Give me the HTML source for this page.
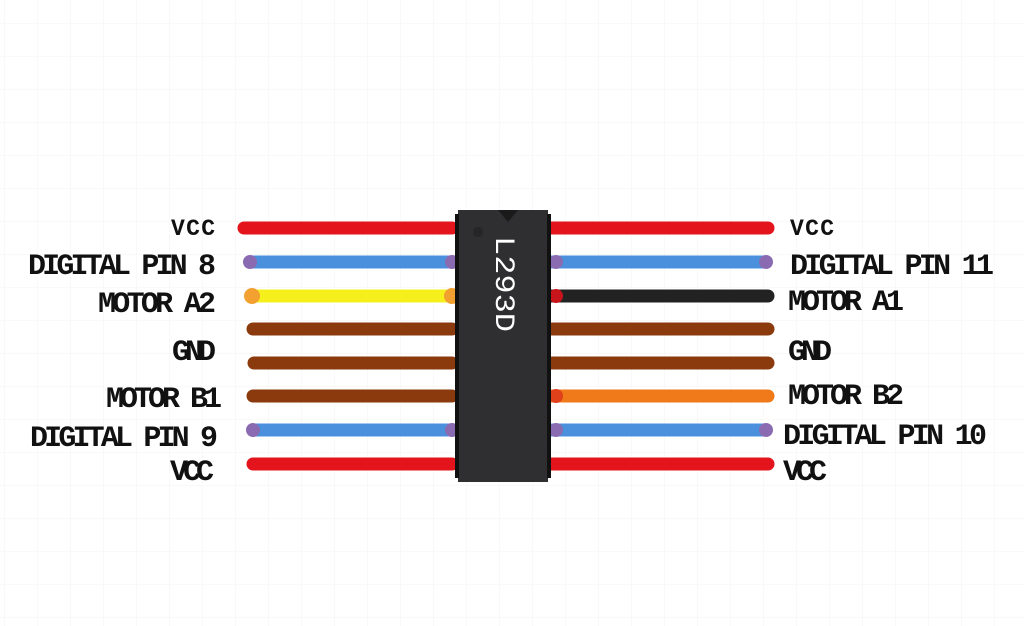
<!DOCTYPE html>
<html><head><style>
html,body{margin:0;padding:0;background:#fff;}
svg{display:block;}
</style></head><body>
<svg width="1024" height="626" viewBox="0 0 1024 626" xmlns="http://www.w3.org/2000/svg">
<defs>
<pattern id="g" width="33" height="33" patternUnits="userSpaceOnUse" x="5" y="-9">
<path d="M33 0V33M0 33H33" stroke="#f3f3f3" stroke-width="1" fill="none"/>
</pattern>
</defs>
<rect width="1024" height="626" fill="url(#g)"/>
<g stroke-linecap="round" stroke-width="13">
<line x1="244" y1="228" x2="452" y2="228" stroke="#e3141b"/>
<line x1="250" y1="262" x2="452" y2="262" stroke="#4a90dc"/>
<line x1="252" y1="296" x2="452" y2="296" stroke="#f5f01c"/>
<line x1="253" y1="329" x2="452" y2="329" stroke="#8a3a0c"/>
<line x1="254" y1="363" x2="452" y2="363" stroke="#8a3a0c"/>
<line x1="253" y1="396" x2="452" y2="396" stroke="#8a3a0c"/>
<line x1="253" y1="430" x2="452" y2="430" stroke="#4a90dc"/>
<line x1="253" y1="464" x2="452" y2="464" stroke="#e3141b"/>
<line x1="552" y1="228" x2="768" y2="228" stroke="#e3141b"/>
<line x1="552" y1="262" x2="766" y2="262" stroke="#4a90dc"/>
<line x1="552" y1="296" x2="768" y2="296" stroke="#222"/>
<line x1="552" y1="329" x2="768" y2="329" stroke="#8a3a0c"/>
<line x1="552" y1="363" x2="768" y2="363" stroke="#8a3a0c"/>
<line x1="552" y1="396" x2="768" y2="396" stroke="#f07a1a"/>
<line x1="552" y1="430" x2="766" y2="430" stroke="#4a90dc"/>
<line x1="552" y1="464" x2="768" y2="464" stroke="#e3141b"/>
</g>
<g>
<circle cx="250" cy="262" r="7" fill="#8a6ab0"/><circle cx="452" cy="262" r="7" fill="#8a6ab0"/>
<circle cx="252" cy="296" r="8" fill="#f2a030"/><circle cx="452" cy="296" r="8" fill="#f2a030"/>
<circle cx="253" cy="430" r="7" fill="#8a6ab0"/><circle cx="452" cy="430" r="7" fill="#8a6ab0"/>
<circle cx="556" cy="262" r="7" fill="#8a6ab0"/><circle cx="766" cy="262" r="7" fill="#8a6ab0"/>
<circle cx="556" cy="430" r="7" fill="#8a6ab0"/><circle cx="766" cy="430" r="7" fill="#8a6ab0"/>
<circle cx="556" cy="296" r="7" fill="#c8141b"/>
<circle cx="556" cy="396" r="7" fill="#e0401a"/>
</g>
<rect x="458" y="210" width="90" height="272" fill="#2f2f31"/>
<g fill="#111">
<rect x="455" y="214" width="4" height="264"/>
<rect x="547" y="214" width="4" height="264"/>
</g>
<path d="M498 210 L508 222 L518 210 Z" fill="#1a1a1a"/>
<circle cx="478" cy="232" r="5" fill="#252527"/>
<text transform="translate(496,236) rotate(90)" font-family="Liberation Mono, monospace" font-size="28" fill="#fff" textLength="96" lengthAdjust="spacingAndGlyphs">L293D</text>
<g font-family="Liberation Mono, monospace" font-weight="bold" font-size="30" fill="#111" text-anchor="end" lengthAdjust="spacingAndGlyphs">
<text x="215" y="235" font-size="23" textLength="44">VCC</text>
<text x="216" y="274" textLength="188">DIGITAL PIN 8</text>
<text x="216" y="312" textLength="118">MOTOR A2</text>
<text x="216" y="360" textLength="44">GND</text>
<text x="222" y="407" textLength="116">MOTOR B1</text>
<text x="218" y="446" textLength="188">DIGITAL PIN 9</text>
<text x="214" y="480" textLength="44">VCC</text>
</g>
<g font-family="Liberation Mono, monospace" font-weight="bold" font-size="30" fill="#111" lengthAdjust="spacingAndGlyphs">
<text x="790" y="235" font-size="23" textLength="44">VCC</text>
<text x="790" y="274" textLength="204">DIGITAL PIN 11</text>
<text x="788" y="310" textLength="116">MOTOR A1</text>
<text x="788" y="360" textLength="44">GND</text>
<text x="788" y="404" textLength="116">MOTOR B2</text>
<text x="783" y="444" textLength="204">DIGITAL PIN 10</text>
<text x="783" y="480" textLength="44">VCC</text>
</g>
</svg>
</body></html>
